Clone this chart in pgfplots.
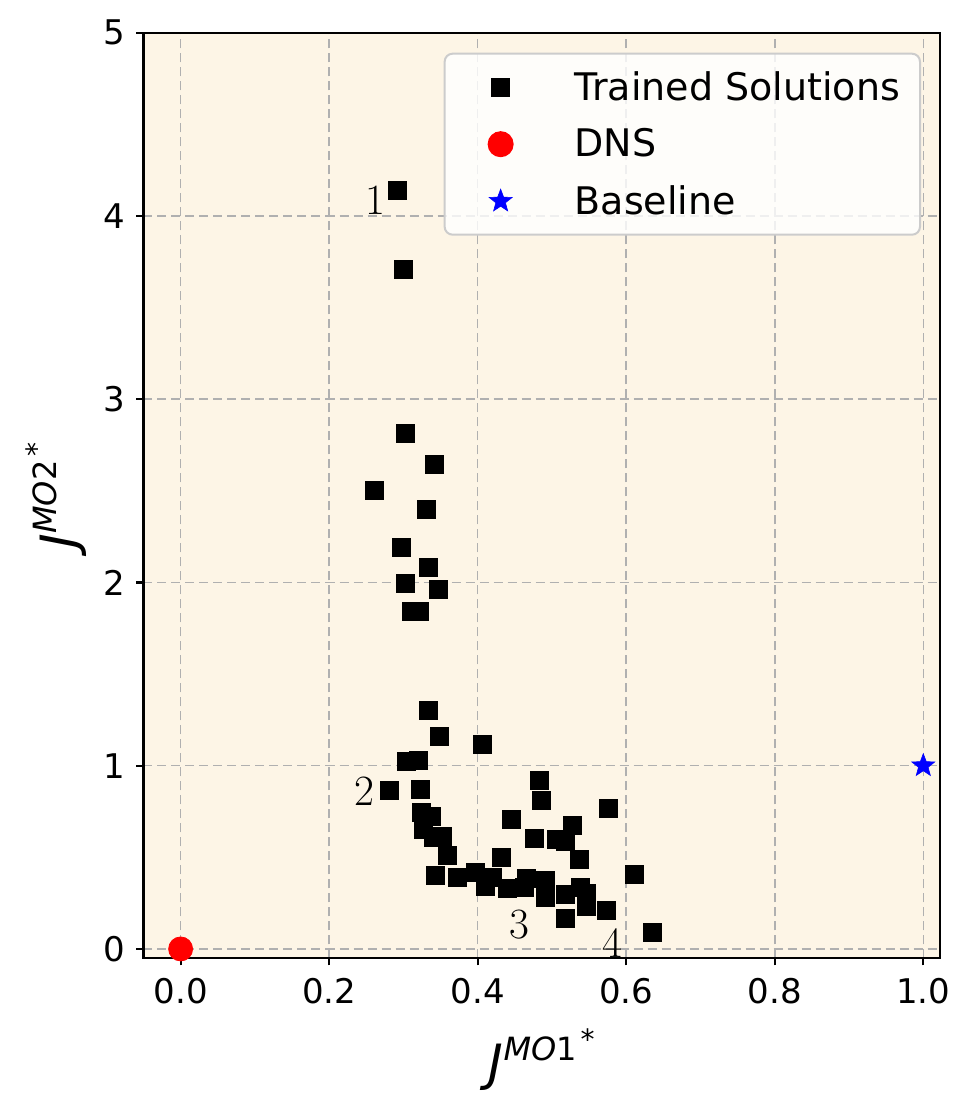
\documentclass[border=0pt]{standalone}
\usepackage{fontspec}
\usepackage{pgfplots}
\pgfplotsset{compat=1.18}
\newfontfamily\dejavu{DejaVu Sans}
\definecolor{bgc}{RGB}{253,245,230}
\definecolor{gridc}{RGB}{176,176,176}
\definecolor{legc}{RGB}{204,204,204}
\pgfdeclareplotmark{fstar}{%
  \pgfpathmoveto{\pgfqpointpolar{90}{\pgfplotmarksize}}%
  \pgfpathlineto{\pgfqpointpolar{126}{0.42\pgfplotmarksize}}%
  \pgfpathlineto{\pgfqpointpolar{162}{\pgfplotmarksize}}%
  \pgfpathlineto{\pgfqpointpolar{198}{0.42\pgfplotmarksize}}%
  \pgfpathlineto{\pgfqpointpolar{234}{\pgfplotmarksize}}%
  \pgfpathlineto{\pgfqpointpolar{270}{0.42\pgfplotmarksize}}%
  \pgfpathlineto{\pgfqpointpolar{306}{\pgfplotmarksize}}%
  \pgfpathlineto{\pgfqpointpolar{342}{0.42\pgfplotmarksize}}%
  \pgfpathlineto{\pgfqpointpolar{18}{\pgfplotmarksize}}%
  \pgfpathlineto{\pgfqpointpolar{54}{0.42\pgfplotmarksize}}%
  \pgfpathclose
  \pgfusepathqfillstroke}
\begin{document}
\begin{tikzpicture}
\begin{axis}[
  scale only axis,
  width=398.25pt, height=462.8pt,
  xmin=-0.05, xmax=1.0225,
  ymin=-0.051, ymax=5,
  axis background/.style={fill=bgc},
  axis line style={line width=1.1pt},
  every tick/.style={black, line width=1.1pt},
  tick align=outside,
  major tick length=3.5pt,
  xtick={0,0.2,0.4,0.6,0.8,1.0},
  ytick={0,1,2,3,4,5},
  xticklabels={0.0,0.2,0.4,0.6,0.8,1.0},
  xtick pos=bottom, ytick pos=left,
  /pgf/number format/assume math mode=true,
  ticklabel style={font=\fontsize{17}{17}\selectfont\dejavu},
  xticklabel style={yshift=-3pt},
  yticklabel style={xshift=-2pt},
  grid=major,
  major grid style={gridc, line width=0.75pt, dash pattern=on 4.5pt off 2.5pt},
  xlabel={{\fontsize{25}{25}\selectfont\dejavu\itshape J}\raisebox{10pt}{\fontsize{16}{16}\selectfont\dejavu\itshape MO\upshape 1}\hspace{2pt}\raisebox{15.4pt}{\fontsize{14}{14}\selectfont\dejavu *}},
  ylabel={{\fontsize{25}{25}\selectfont\dejavu\itshape J}\raisebox{10pt}{\fontsize{16}{16}\selectfont\dejavu\itshape MO\upshape 2}\hspace{2pt}\raisebox{15.4pt}{\fontsize{14}{14}\selectfont\dejavu *}},
  xlabel style={at={(axis description cs:0.5,-0.1316)}, anchor=base, inner sep=0pt},
  ylabel style={at={(axis description cs:-0.0835,0.5)}, anchor=base, rotate=0, inner sep=0pt},
  clip=false,
  legend cell align=left,
  legend image code/.code={%
    \path[draw=none, fill=none] (-20pt,-14.25pt) rectangle (35pt,14.25pt);
    \draw[#1, fill opacity=1, draw opacity=1, sharp corners] plot coordinates {(0pt,0pt)};},
  legend style={at={(axis description cs:1,1)}, anchor=north east,
    xshift=-9.5pt, yshift=-10pt,
    draw=legc, line width=1pt, rounded corners=4pt,
    fill=white, fill opacity=0.8, text opacity=1,
    inner xsep=8pt, inner ysep=2.5pt,
    row sep=0pt, column sep=0pt,
    cells={anchor=west, inner sep=0pt, draw=none},
    font=\fontsize{19}{19}\selectfont\dejavu},
]
\addplot[only marks, mark=square*, mark size=4.5pt, mark options={fill=black, draw=black, line width=0.3pt}] coordinates {
(0.2914,4.138) (0.2995,3.707) (0.3022,2.815) (0.3412,2.647) (0.2604,2.505)
(0.3305,2.400) (0.2968,2.193) (0.3332,2.084) (0.3022,1.996) (0.3466,1.960)
(0.3108,1.840) (0.3220,1.840) (0.3332,1.305) (0.3480,1.163) (0.4059,1.117)
(0.3041,1.026) (0.3197,1.032) (0.2816,0.868) (0.3233,0.872) (0.4827,0.922)
(0.4863,0.813) (0.5757,0.768) (0.4450,0.708) (0.3237,0.746) (0.3381,0.722)
(0.3270,0.651) (0.3399,0.610) (0.3530,0.615) (0.5271,0.673) (0.4756,0.604)
(0.5061,0.599) (0.5173,0.586) (0.5366,0.490) (0.3588,0.513) (0.4315,0.502)
(0.3431,0.400) (0.3725,0.393) (0.3965,0.420) (0.4109,0.344) (0.4199,0.391)
(0.4396,0.331) (0.4648,0.384) (0.4634,0.337) (0.4904,0.373) (0.4917,0.282)
(0.5183,0.300) (0.5375,0.337) (0.5465,0.304) (0.5465,0.231) (0.5173,0.168)
(0.5726,0.213) (0.6103,0.409) (0.6349,0.091)
};
\addlegendentry{Trained Solutions}
\addplot[only marks, mark=*, mark size=6pt, mark options={fill=red, draw=red}] coordinates {(0,0)};
\addlegendentry{DNS}
\addplot[only marks, mark=fstar, mark size=6pt, mark options={fill=blue, draw=blue, line width=0.3pt}] coordinates {(1,1)};
\addlegendentry{Baseline}
\node[anchor=base, inner sep=0pt, font=\fontsize{21.6}{21.6}\selectfont] at (axis cs:0.2625,4.006) {1};
\node[anchor=base, inner sep=0pt, font=\fontsize{21.6}{21.6}\selectfont] at (axis cs:0.248,0.781) {2};
\node[anchor=base, inner sep=0pt, font=\fontsize{21.6}{21.6}\selectfont] at (axis cs:0.456,0.058) {3};
\node[anchor=base, inner sep=0pt, font=\fontsize{21.6}{21.6}\selectfont] at (axis cs:0.582,-0.049) {4};
\end{axis}
\pgfresetboundingbox
\useasboundingbox ([shift={(-71.75pt,-77.85pt)}]current axis.south west) rectangle ([shift={(15.5pt,16.35pt)}]current axis.north east);
\end{tikzpicture}
\end{document}
